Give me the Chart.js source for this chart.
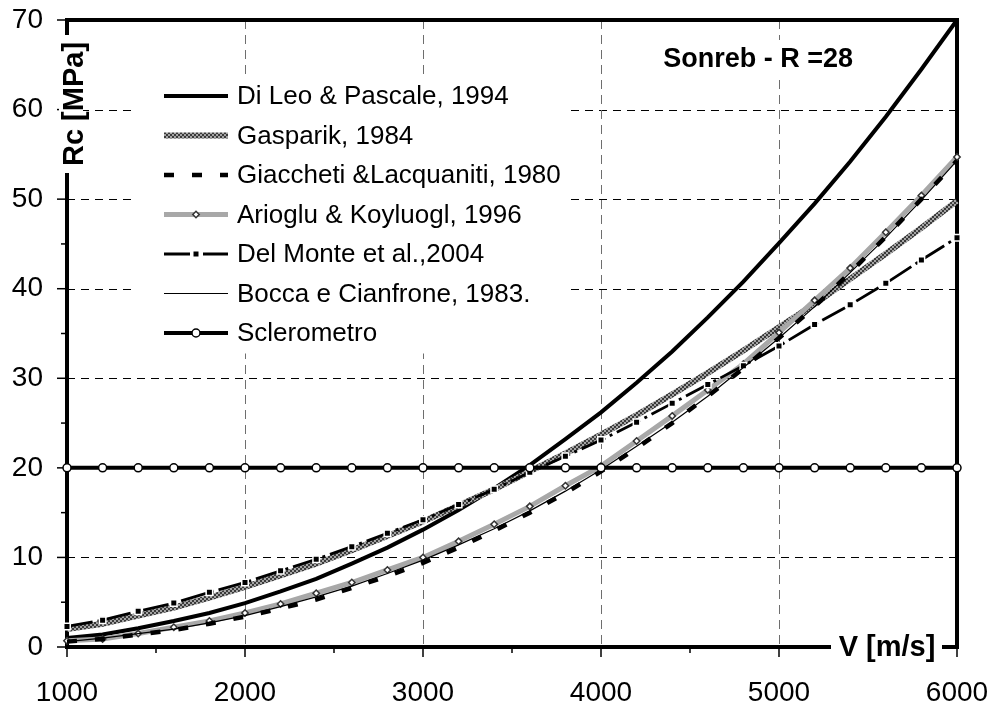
<!DOCTYPE html>
<html>
<head>
<meta charset="utf-8">
<title>Sonreb - R =28</title>
<script src="https://cdn.jsdelivr.net/npm/chart.js@4.4.1/dist/chart.umd.min.js"></script>
<style>
  html, body { margin: 0; padding: 0; background: #fff; }
  #wrap { width: 994px; height: 709px; }
</style>
</head>
<body>
<div id="wrap"><canvas id="chart" width="994" height="709"></canvas></div>
<script>
  "use strict";

  // Velocity V [m/s] sampled every 200 m/s
  var speeds = [1000, 1200, 1400, 1600, 1800, 2000, 2200, 2400, 2600, 2800, 3000, 3200, 3400,
    3600, 3800, 4000, 4200, 4400, 4600, 4800, 5000, 5200, 5400, 5600, 5800, 6000];

  // Rc [MPa] for each formula
  var diLeo = [1.0, 1.4, 2.1, 2.9, 3.8, 4.9, 6.2, 7.6, 9.3, 11.1, 13.1, 15.3, 17.7,
    20.3, 23.2, 26.2, 29.5, 33.0, 36.8, 40.8, 45.1, 49.5, 54.2, 59.2, 64.5, 70.0];
  var gasparik = [2.0, 2.6, 3.5, 4.4, 5.5, 6.7, 8.0, 9.3, 10.8, 12.4, 14.0, 15.8, 17.6,
    19.6, 21.6, 23.7, 25.9, 28.2, 30.6, 33.1, 35.7, 38.3, 41.1, 43.9, 46.8, 49.8];
  var giaccheti = [0.6, 0.9, 1.4, 1.9, 2.6, 3.4, 4.3, 5.3, 6.6, 7.9, 9.4, 11.1, 13.0,
    15.0, 17.2, 19.6, 22.2, 25.0, 28.0, 31.1, 34.5, 38.0, 41.8, 45.8, 50.0, 54.3];
  var arioglu = [0.7, 0.9, 1.5, 2.2, 2.9, 3.8, 4.8, 6.0, 7.2, 8.6, 10.0, 11.8, 13.7,
    15.7, 18.0, 20.2, 23.0, 25.8, 28.7, 31.6, 35.1, 38.7, 42.3, 46.3, 50.4, 54.7];
  var delMonte = [2.3, 3.0, 4.0, 4.9, 6.1, 7.2, 8.5, 9.8, 11.2, 12.7, 14.2, 15.9, 17.6,
    19.5, 21.3, 23.1, 25.1, 27.2, 29.3, 31.4, 33.6, 36.0, 38.2, 40.6, 43.2, 45.7];
  var bocca = [0.6, 1.0, 1.5, 2.0, 2.7, 3.5, 4.5, 5.6, 6.8, 8.2, 9.7, 11.4, 13.2,
    15.2, 17.4, 19.8, 22.4, 25.1, 28.0, 31.2, 34.5, 38.0, 41.8, 45.7, 49.9, 54.3];
  var sclerometro = [20, 20, 20, 20, 20, 20, 20, 20, 20, 20, 20, 20, 20,
    20, 20, 20, 20, 20, 20, 20, 20, 20, 20, 20, 20, 20];

  // Axis ticks
  var xTicks = [1000, 2000, 3000, 4000, 5000, 6000];
  var xMinor = [1500, 2500, 3500, 4500, 5500];
  var yTicks = [0, 10, 20, 30, 40, 50, 60, 70];
  var yMinor = [5, 15, 25, 35, 45, 55, 65];

  var FONT = "'Liberation Sans', Arial, Helvetica, sans-serif";
  Chart.defaults.font.family = FONT;
  Chart.defaults.color = "#000";

  var canvas = document.getElementById("chart");
  var ctx = canvas.getContext("2d");

  // grey checkered fill for the Gasparik curve
  var hatch = (function () {
    var c = document.createElement("canvas");
    c.width = 4;
    c.height = 4;
    var g = c.getContext("2d");
    g.fillStyle = "#a4a4a4";
    g.fillRect(0, 0, 4, 4);
    g.fillStyle = "#3a3a3a";
    g.fillRect(0, 0, 2, 2);
    g.fillRect(2, 2, 2, 2);
    return ctx.createPattern(c, "repeat");
  })();

  function points(values) {
    return speeds.map(function (v, i) {
      return { x: v, y: values[i] };
    });
  }

  var datasets = [
    {
      label: "Di Leo & Pascale, 1994",
      data: points(diLeo),
      borderColor: "#000",
      borderWidth: 4,
      pointRadius: 0,
      order: 6,
    },
    {
      label: "Gasparik, 1984",
      data: points(gasparik),
      borderColor: hatch,
      borderWidth: 6,
      pointRadius: 0,
      order: 5,
    },
    {
      label: "Giaccheti &Lacquaniti, 1980",
      data: points(giaccheti),
      borderColor: "#000",
      borderWidth: 4.5,
      borderDash: [10, 18],
      pointRadius: 0,
      order: 3,
    },
    {
      label: "Arioglu & Koyluogl, 1996",
      data: points(arioglu),
      borderColor: "#a8a8a8",
      borderWidth: 5,
      pointStyle: "rectRot",
      pointRadius: 3.2,
      pointBorderWidth: 1.5,
      pointBorderColor: "#333",
      pointBackgroundColor: "#fff",
      order: 4,
    },
    {
      label: "Del Monte et al.,2004",
      data: points(delMonte),
      borderColor: "#000",
      borderWidth: 2.8,
      borderDash: [26, 5, 3, 5],
      pointStyle: "rect",
      pointRadius: 4.6,
      pointBorderWidth: 1.5,
      pointBorderColor: "#fff",
      pointBackgroundColor: "#000",
      order: 2,
    },
    {
      label: "Bocca e Cianfrone, 1983.",
      data: points(bocca),
      borderColor: "#000",
      borderWidth: 1.2,
      pointRadius: 0,
      order: 1,
    },
    {
      label: "Sclerometro",
      data: points(sclerometro),
      borderColor: "#000",
      borderWidth: 4,
      pointStyle: "circle",
      pointRadius: 4,
      pointBorderWidth: 1.5,
      pointBorderColor: "#000",
      pointBackgroundColor: "#fff",
      order: 0,
    },
  ];

  function strokeLine(c, x1, y1, x2, y2) {
    c.beginPath();
    c.moveTo(x1, y1);
    c.lineTo(x2, y2);
    c.stroke();
  }

  // dashed grid, outer ticks and the heavy frame, under the curves
  var framePlugin = {
    id: "frame",
    beforeDatasetsDraw: function (chart) {
      var c = chart.ctx;
      var a = chart.chartArea;
      var sx = chart.scales.x;
      var sy = chart.scales.y;
      c.save();
      c.lineWidth = 1;

      c.strokeStyle = "#000";
      c.setLineDash([8, 6]);
      yTicks.slice(1, -1).forEach(function (v) {
        var py = Math.round(sy.getPixelForValue(v)) + 0.5;
        strokeLine(c, a.left, py, a.right, py);
      });

      c.strokeStyle = "#6e6e6e";
      c.setLineDash([9, 6]);
      xTicks.slice(1, -1).forEach(function (v) {
        var px = Math.round(sx.getPixelForValue(v)) + 0.5;
        strokeLine(c, px, a.top, px, a.bottom);
      });

      c.setLineDash([]);
      c.strokeStyle = "#000";
      c.lineWidth = 1.5;
      yTicks.forEach(function (v) {
        var py = sy.getPixelForValue(v);
        strokeLine(c, a.left - 10, py, a.left, py);
      });
      yMinor.forEach(function (v) {
        var py = sy.getPixelForValue(v);
        strokeLine(c, a.left - 6, py, a.left, py);
      });
      xTicks.forEach(function (v) {
        var px = sx.getPixelForValue(v);
        strokeLine(c, px, a.bottom, px, a.bottom + 10);
      });
      xMinor.forEach(function (v) {
        var px = sx.getPixelForValue(v);
        strokeLine(c, px, a.bottom, px, a.bottom + 6);
      });

      c.lineWidth = 4;
      c.lineJoin = "miter";
      c.strokeRect(a.left, a.top, a.right - a.left, a.bottom - a.top);
      c.restore();
    },

    // legend, axis titles and the chart title on white boxes
    afterDatasetsDraw: function (chart) {
      var c = chart.ctx;
      var a = chart.chartArea;
      c.save();

      // legend
      var rowY = 96;
      var rowStep = 39.5;
      var lineX1 = 164;
      var lineX2 = 228;
      var textX = 237;
      c.font = "26px " + FONT;
      var widest = 0;
      datasets.forEach(function (d) {
        widest = Math.max(widest, c.measureText(d.label).width);
      });
      c.fillStyle = "#fff";
      c.fillRect(137, rowY - 21, textX + widest + 10 - 137, rowStep * datasets.length + 2);

      datasets.forEach(function (d, i) {
        var y = rowY + i * rowStep;
        c.save();
        c.strokeStyle = d.borderColor;
        c.lineWidth = d.borderWidth;
        c.setLineDash(d.borderDash || []);
        strokeLine(c, lineX1, y, lineX2, y);
        c.restore();
        if (d.pointRadius) {
          c.save();
          c.fillStyle = d.pointBackgroundColor;
          c.strokeStyle = d.pointBorderColor;
          c.lineWidth = d.pointBorderWidth;
          Chart.helpers.drawPoint(c, {
            pointStyle: d.pointStyle,
            radius: d.pointRadius,
            rotation: 0,
            borderWidth: d.pointBorderWidth,
          }, (lineX1 + lineX2) / 2, y);
          c.restore();
        }
        c.fillStyle = "#000";
        c.textAlign = "left";
        c.textBaseline = "middle";
        c.fillText(d.label, textX, y + 1);
      });

      // y axis title breaking the left frame
      c.fillStyle = "#fff";
      c.fillRect(a.left - 8, 35, 24, 138);
      c.save();
      c.translate(a.left + 8, 104);
      c.rotate(-Math.PI / 2);
      c.fillStyle = "#000";
      c.font = "bold 29px " + FONT;
      c.textAlign = "center";
      c.textBaseline = "middle";
      c.fillText("Rc [MPa]", 0, 0);
      c.restore();

      // x axis title breaking the bottom frame
      c.fillStyle = "#fff";
      c.fillRect(831, a.bottom - 14, 111, 28);
      c.fillStyle = "#000";
      c.font = "bold 29px " + FONT;
      c.textAlign = "center";
      c.textBaseline = "middle";
      c.fillText("V [m/s]", 887, a.bottom + 1);

      // chart title
      c.font = "bold 27px " + FONT;
      var tw = c.measureText("Sonreb - R =28").width;
      c.fillStyle = "#fff";
      c.fillRect(853 - tw - 4, 40, tw + 8, 40);
      c.fillStyle = "#000";
      c.textAlign = "right";
      c.fillText("Sonreb - R =28", 853, 60);

      c.restore();
    },
  };

  function plain(value) {
    return String(value);
  }

  var chart = new Chart(ctx, {
    type: "line",
    data: { datasets: datasets },
    options: {
      responsive: false,
      animation: false,
      devicePixelRatio: 1,
      layout: { padding: { top: 20, right: 37, left: 0, bottom: 0 } },
      datasets: {
        line: { tension: 0, fill: false, clip: false },
      },
      plugins: {
        legend: { display: false },
        tooltip: { enabled: false },
      },
      scales: {
        x: {
          type: "linear",
          min: 1000,
          max: 6000,
          grid: { display: false, drawTicks: false },
          border: { display: false },
          ticks: {
            font: { size: 28 },
            color: "#000",
            padding: 29,
            maxRotation: 0,
            autoSkip: false,
            callback: plain,
          },
          afterBuildTicks: function (s) {
            s.ticks = xTicks.map(function (v) { return { value: v }; });
          },
          afterFit: function (s) {
            s.height = 62;
            s.paddingLeft = 0;
            s.paddingRight = 0;
          },
        },
        y: {
          min: 0,
          max: 70,
          grid: { display: false, drawTicks: false },
          border: { display: false },
          ticks: {
            font: { size: 28 },
            color: "#000",
            padding: 24,
            callback: plain,
          },
          afterBuildTicks: function (s) {
            s.ticks = yTicks.map(function (v) { return { value: v }; });
          },
          afterFit: function (s) {
            s.width = 67;
            s.paddingTop = 0;
            s.paddingBottom = 0;
          },
        },
      },
    },
    plugins: [framePlugin],
  });
</script>
</body>
</html>
